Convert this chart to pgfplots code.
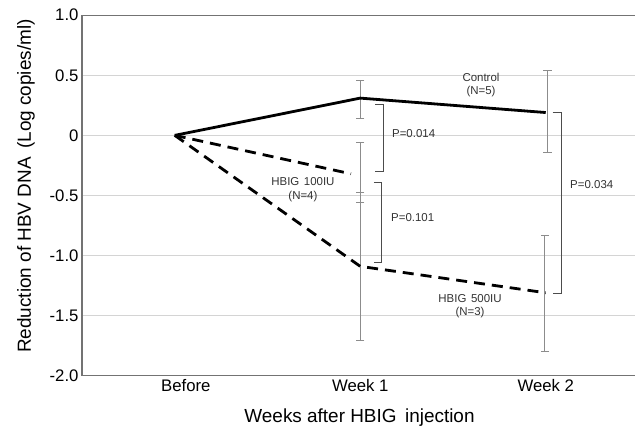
\documentclass[border=0pt]{standalone}
\usepackage{fontspec}
\setmainfont{Liberation Sans}
\usepackage{pgfplots}
\pgfplotsset{compat=1.18}
\begin{document}
\begin{tikzpicture}
\begin{axis}[
  at={(82bp,51.3bp)}, anchor=south west,
  scale only axis, width=555bp, height=360.5bp,
  xmin=-0.5, xmax=2.492, ymin=-2, ymax=1,
  xtick={0.06,1,2}, xticklabels={Before,Week 1,Week 2},
  ytick={-2,-1.5,-1,-0.5,0,0.5,1},
  yticklabels={-2.0,-1.5,-1.0,-0.5,0,0.5,1.0},
  major tick length=0pt,
  ymajorgrids, grid style={color=black!17, line width=0.8bp},
  axis line style={draw=black!55, line width=1.2bp},
  tick label style={font=\fontsize{16.8}{18}\selectfont},
  xlabel={Weeks after HBIG\hspace{0.45em}injection},
  ylabel={Reduction of HBV DNA\hspace{0.45em}(Log copies/ml)},
  xlabel style={font=\fontsize{19}{22}\selectfont, at={(rel axis cs:0.5,-0.1173)}, anchor=center},
  ylabel style={font=\fontsize{19}{22}\selectfont, at={(rel axis cs:-0.1009,0.526)}, anchor=center},
  unbounded coords=jump,
  clip=false,
]
% error bars (upper and lower limits)
\addplot[black!45, line width=0.9bp, mark=-, mark size=4.2bp, mark options={line width=0.9bp}, forget plot]
  coordinates {
  (1,0.46) (1,0.14) (nan,nan)
  (2.01,0.54) (2.01,-0.14) (nan,nan)
  (1,-0.06) (1,-0.555) (nan,nan)
  (1,-0.477) (1,-1.71) (nan,nan)
  (1.995,-0.83) (1.995,-1.795)
  };
% Control
\addplot[black, line width=2.8bp] coordinates {(0,0) (1,0.31) (2,0.19)};
% HBIG 100IU
\addplot[black, line width=2.8bp, dash pattern=on 11bp off 7bp] coordinates {(0,0) (0.95,-0.32)};
% HBIG 500IU
\addplot[black, line width=2.8bp, dash pattern=on 11bp off 7bp] coordinates {(0,0) (1,-1.09) (2,-1.31)};
% brackets
\draw[black!70, line width=0.9bp] (axis cs:1.080,0.259) -- (axis cs:1.123,0.259) -- (axis cs:1.123,-0.304) -- (axis cs:1.080,-0.304);
\draw[black!70, line width=0.9bp] (axis cs:1.074,-0.388) -- (axis cs:1.117,-0.388) -- (axis cs:1.117,-1.057) -- (axis cs:1.074,-1.057);
\draw[black!70, line width=0.9bp] (axis cs:2.037,0.189) -- (axis cs:2.086,0.189) -- (axis cs:2.086,-1.313) -- (axis cs:2.037,-1.313);
\begin{scope}[every node/.style={font=\fontsize{11.5}{13.5}\selectfont, text=black!80}]
\node[anchor=west, inner sep=0] at (axis cs:1.171,0.017) {P=0.014};
\node[anchor=west, inner sep=0] at (axis cs:1.166,-0.68) {P=0.101};
\node[anchor=west, inner sep=0] at (axis cs:2.131,-0.41) {P=0.034};
\node[align=center, inner sep=0] at (axis cs:1.651,0.42) {Control\\(N=5)};
\node[align=center, inner sep=0] at (axis cs:0.691,-0.453) {HBIG\hspace{0.4em}100IU\\(N=4)};
\node[align=center, inner sep=0] at (axis cs:1.592,-1.423) {HBIG\hspace{0.4em}500IU\\(N=3)};
\end{scope}
\end{axis}
\pgfresetboundingbox
\useasboundingbox (0,0) rectangle (635bp,427bp);
\end{tikzpicture}
\end{document}
